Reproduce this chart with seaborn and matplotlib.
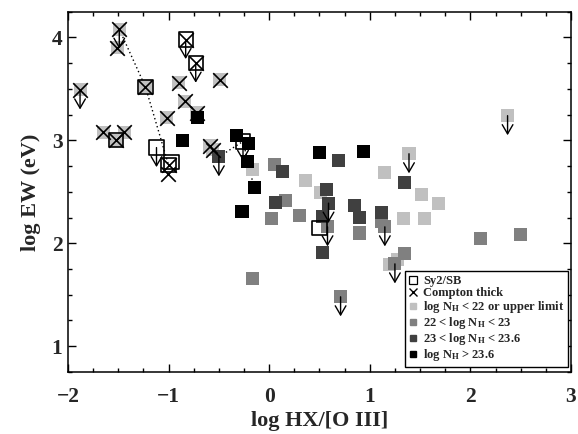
import matplotlib
matplotlib.use("Agg")
import matplotlib.pyplot as plt
from matplotlib.lines import Line2D
from matplotlib.ticker import MultipleLocator
import seaborn as sns
import pandas as pd

# ---------------- data ----------------
# class codes: L = log NH<22 / upper limit, M = 22-23, D = 23-23.6, B = >23.6, N = no NH
light_x = [-1.88, -1.49, -1.51, -1.23, -1.65, -1.52, -1.44, -0.90, -0.49, -0.84, -1.02, -0.72,
           -0.59, -0.56, -0.17, 0.36, 0.51, 1.15, 1.39, 1.51, 1.68, 1.34, 1.54, 2.37, 1.28, 1.20]
light_y = [3.49, 4.08, 3.90, 3.52, 3.08, 3.00, 3.08, 3.56, 3.59, 3.38, 3.22, 3.27,
           2.95, 2.91, 2.72, 2.61, 2.49, 2.69, 2.87, 2.47, 2.39, 2.24, 2.24, 3.24, 1.84, 1.79]
light_ct = [1, 1, 1, 1, 1, 1, 1, 1, 1, 1, 1, 1,
            1, 1, 0, 0, 0, 0, 0, 0, 0, 0, 0, 0, 0, 0]
light_sy = [0, 0, 0, 1, 0, 1, 0, 0, 0, 0, 0, 0,
            0, 0, 0, 0, 0, 0, 0, 0, 0, 0, 0, 0, 0, 0]
light_ul = [1, 1, 0, 0, 0, 0, 0, 0, 0, 0, 0, 0,
            0, 0, 0, 0, 0, 0, 1, 0, 0, 0, 0, 1, 0, 0]

mid_x = [0.05, 0.16, 0.02, 0.30, 0.58, 0.90, 1.12, 1.15, -0.17, 0.71, 2.10, 2.50, 1.35, 1.25]
mid_y = [2.77, 2.42, 2.24, 2.27, 2.16, 2.10, 2.21, 2.16, 1.66, 1.48, 2.05, 2.09, 1.90, 1.80]
mid_ul = [0, 0, 0, 0, 1, 0, 0, 1, 0, 1, 0, 0, 0, 1]

dark_x = [-0.50, 0.13, 0.06, 0.69, 0.57, 0.59, 0.53, 0.85, 0.90, 0.53, 1.12, 1.35]
dark_y = [2.84, 2.70, 2.40, 2.80, 2.52, 2.39, 2.26, 2.37, 2.25, 1.91, 2.30, 2.59]
dark_ul = [1, 0, 0, 0, 0, 1, 0, 0, 0, 0, 0, 0]

black_x = [-0.71, -0.86, -0.32, -0.21, -0.22, -0.15, -0.27, 0.50, 0.94]
black_y = [3.22, 3.00, 3.05, 2.97, 2.79, 2.54, 2.31, 2.88, 2.89]

none_x = [-0.83, -0.73, -1.12, -1.00, -0.97, -1.01, 0.50, -0.26]
none_y = [3.98, 3.75, 2.93, 2.76, 2.79, 2.67, 2.15, 2.99]
none_ct = [1, 1, 0, 1, 0, 1, 0, 0]
none_sy = [1, 1, 1, 1, 1, 0, 1, 1]
none_ul = [1, 1, 1, 0, 0, 0, 0, 1]

# dotted connections
link1_x = [-1.49, -1.23, -1.00]
link1_y = [4.08, 3.52, 2.76]
link2_x = [-0.50, -0.26, -0.15]
link2_y = [2.84, 2.99, 2.54]

legend_labels = ["Sy2/SB", "Compton thick", r"log N$_{\mathbf{H}}$ < 22 or upper limit",
                 r"22 < log N$_{\mathbf{H}}$ < 23", r"23 < log N$_{\mathbf{H}}$ < 23.6",
                 r"log N$_{\mathbf{H}}$ > 23.6"]
class_names = ["L", "M", "D", "B"]
class_colors = ["#c0c0c0", "#808080", "#404040", "#000000"]

# ---------------- build table ----------------
rows = []
for x, y, c, s, u in zip(light_x, light_y, light_ct, light_sy, light_ul):
    rows.append((x, y, "L", c, s, u))
for x, y, u in zip(mid_x, mid_y, mid_ul):
    rows.append((x, y, "M", 0, 0, u))
for x, y, u in zip(dark_x, dark_y, dark_ul):
    rows.append((x, y, "D", 0, 0, u))
for x, y in zip(black_x, black_y):
    rows.append((x, y, "B", 0, 0, 0))
for x, y, c, s, u in zip(none_x, none_y, none_ct, none_sy, none_ul):
    rows.append((x, y, "N", c, s, u))
df = pd.DataFrame(rows, columns=["x", "y", "cls", "ct", "sy", "ul"])

# ---------------- style ----------------
sns.set_theme(style="ticks")
plt.rcParams["font.family"] = ["Liberation Serif", "DejaVu Serif"]
plt.rcParams["font.weight"] = "bold"
plt.rcParams["mathtext.fontset"] = "custom"
plt.rcParams["mathtext.rm"] = "Liberation Serif:bold"
plt.rcParams["mathtext.bf"] = "Liberation Serif:bold"
plt.rcParams["mathtext.default"] = "bf"
plt.rcParams["axes.unicode_minus"] = True

fig = plt.figure(figsize=(5.78, 4.34), dpi=100)
ax = fig.add_axes([0.1176, 0.143, 0.8702, 0.830])

# dotted links
for lx, ly in [(link1_x, link1_y), (link2_x, link2_y)]:
    sns.lineplot(x=lx, y=ly, sort=False, estimator=None, ax=ax, color="black",
                 lw=1.0, linestyle=(0, (1, 2)), zorder=1)

# filled squares
sq = df[df.cls != "N"].copy()
sq["order"] = sq.cls.map({k: i for i, k in enumerate(class_names)})
sq = sq.sort_values("order", kind="stable")
sns.scatterplot(data=sq, x="x", y="y", hue="cls", hue_order=class_names,
                palette=dict(zip(class_names, class_colors)), marker="s", s=88,
                linewidth=0, legend=False, ax=ax, zorder=2)

# Compton thick crosses
cts = df[df.ct == 1]
sns.scatterplot(data=cts, x="x", y="y", marker="x", s=110, color="black",
                linewidth=1.2, legend=False, ax=ax, zorder=3)

# Sy2/SB open squares
sys_ = df[df.sy == 1]
ax.scatter(sys_.x, sys_.y, marker="s", s=105, facecolors="none",
           edgecolors="black", linewidths=1.2, zorder=3.5)

# upper-limit arrows
for _, r in df[df.ul == 1].iterrows():
    ax.annotate("", xy=(r.x, r.y - 0.19), xytext=(r.x, r.y),
                arrowprops=dict(arrowstyle="->,head_length=0.55,head_width=0.32",
                                color="black", lw=1.0, shrinkA=0, shrinkB=0),
                zorder=4)

# ---------------- axes ----------------
ax.set_xlim(-2, 3)
ax.set_ylim(0.75, 4.25)
ax.xaxis.set_major_locator(MultipleLocator(1))
ax.xaxis.set_minor_locator(MultipleLocator(0.25))
ax.yaxis.set_major_locator(MultipleLocator(1))
ax.yaxis.set_minor_locator(MultipleLocator(0.25))
ax.tick_params(which="both", direction="in", top=True, right=True, width=1, color="black")
ax.tick_params(which="major", length=5.5)
ax.tick_params(which="minor", length=2.8)
ax.tick_params(axis="x", which="major", labelsize=15.5, pad=11)
ax.tick_params(axis="y", which="major", labelsize=15.5, pad=4)
for t in ax.get_xticklabels() + ax.get_yticklabels():
    t.set_fontweight("bold")
for s in ax.spines.values():
    s.set_linewidth(1.1)
    s.set_color("black")

ax.set_xlabel("log HX/[O III]", fontsize=16, fontweight="bold", labelpad=3)
ax.set_ylabel("log EW (eV)", fontsize=16, fontweight="bold", labelpad=8)

# ---------------- legend ----------------
handles = [
    Line2D([], [], marker="s", markersize=6, markerfacecolor="none",
           markeredgecolor="black", markeredgewidth=0.9, linestyle="none"),
    Line2D([], [], marker="x", markersize=6, color="black", markeredgewidth=1.0,
           linestyle="none"),
] + [Line2D([], [], marker="s", markersize=5, color=c, linestyle="none")
     for c in class_colors]
leg = ax.legend(handles, legend_labels, loc="lower right",
                bbox_to_anchor=(0.994, 0.014), borderaxespad=0, fancybox=False,
                framealpha=1, edgecolor="black", handlelength=0.7, handletextpad=0.4,
                labelspacing=0.0, borderpad=0.3, prop={"size": 9, "weight": "bold"})
leg.get_frame().set_linewidth(1.0)

fig.savefig("out.png", dpi=100)
